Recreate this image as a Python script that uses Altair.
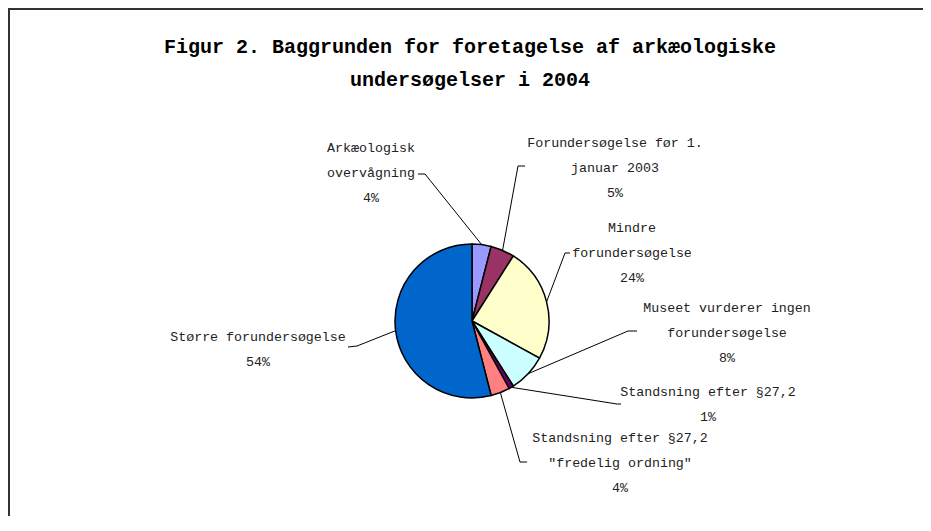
import math
import altair as alt
import pandas as pd

# ---- data ----
categories = [
    "Arkæologisk overvågning",
    "Forundersøgelse før 1. januar 2003",
    "Mindre forundersøgelse",
    "Museet vurderer ingen forundersøgelse",
    "Standsning efter §27,2",
    "Standsning efter §27,2 \"fredelig ordning\"",
    "Større forundersøgelse",
]
shares = [4, 5, 24, 8, 1, 4, 54]
label_lines = [
    ["Arkæologisk", "overvågning"],
    ["Forundersøgelse før 1.", "januar 2003"],
    ["Mindre", "forundersøgelse"],
    ["Museet vurderer ingen", "forundersøgelse"],
    ["Standsning efter §27,2"],
    ["Standsning efter §27,2", "\"fredelig ordning\""],
    ["Større forundersøgelse"],
]
title_lines = ["Figur 2. Baggrunden for foretagelse af arkæologiske",
               "undersøgelser i 2004"]

# ---- styles / layout ----
colors = ["#9999FF", "#993366", "#FFFFCC", "#CCFFFF", "#660066", "#FF8080", "#0066CC"]
W, H = 915, 508
CX, CY, R = 464, 313, 77
LINE_H = 25
FONT = "Liberation Mono"
# label anchor (centre x, first line y)
label_anchor = [(363, 140), (607, 135), (624, 220), (719, 300), (700, 384), (612, 430), (250, 329)]
# leader line elbow and tick end
leader_pts = [
    [(417, 166), (410, 166)],
    [(510, 158), (517, 158)],
    [(557, 245), (562, 245)],
    [(620, 323), (629, 323)],
    [(609, 396), (613, 396)],
    [(512, 454), (519, 454)],
    [(349, 338), (340, 339)],
]

pie_df = pd.DataFrame({"cat": categories, "share": shares, "order": list(range(len(shares)))})

# labels
rows = []
for i, (lines, v) in enumerate(zip(label_lines, shares)):
    ax, ay = label_anchor[i]
    for j, t in enumerate(lines + [f"{v}%"]):
        rows.append({"x": ax, "y": ay + j * LINE_H, "text": t})
lab_df = pd.DataFrame(rows)

# leader lines starting at slice mid-angle on the pie edge
total = sum(shares)
cum = 0
lrows = []
for i, v in enumerate(shares):
    mid = (cum + v / 2) / total * 2 * math.pi
    cum += v
    sx = CX + R * math.sin(mid)
    sy = CY - R * math.cos(mid)
    pts = [(sx, sy)] + leader_pts[i]
    for k, (px, py) in enumerate(pts):
        lrows.append({"lid": i, "k": k, "x": px, "y": py})
lead_df = pd.DataFrame(lrows)

title_df = pd.DataFrame({"x": [462, 462], "y": [39, 72], "text": title_lines})

xpix = lambda f: alt.X(f, scale=None, axis=None)
ypix = lambda f: alt.Y(f, scale=None, axis=None)

# outer frame: only top and left edges fall inside the picture
frame = alt.Chart(pd.DataFrame({"k": [0]})).mark_rect(
    fill="transparent", stroke="#333333", strokeWidth=2).encode(
    x=alt.value(1), x2=alt.value(W + 60), y=alt.value(1), y2=alt.value(H + 60))

pie = alt.Chart(pie_df).mark_arc(outerRadius=R, stroke="black", strokeWidth=1.5).encode(
    theta=alt.Theta("share:Q", stack=True),
    order=alt.Order("order:Q"),
    color=alt.Color("cat:N", scale=alt.Scale(domain=categories, range=colors), legend=None),
    x=alt.value(CX), y=alt.value(CY),
)

leaders = alt.Chart(lead_df).mark_line(color="black", strokeWidth=1).encode(
    x=xpix("x:Q"), y=ypix("y:Q"), detail="lid:N", order="k:Q")

labels = alt.Chart(lab_df).mark_text(font=FONT, fontSize=13.3, color="#222222",
                                      align="center", baseline="middle").encode(
    x=xpix("x:Q"), y=ypix("y:Q"), text="text:N")

title = alt.Chart(title_df).mark_text(font=FONT, fontSize=20, fontWeight="bold", color="black",
                                       align="center", baseline="middle").encode(
    x=xpix("x:Q"), y=ypix("y:Q"), text="text:N")

chart = alt.layer(frame, leaders, pie, labels, title).properties(
    width=W, height=H, autosize=alt.AutoSizeParams(type="none"), padding=0,
    view=alt.ViewBackground(stroke="transparent", strokeOpacity=0, strokeWidth=0),
).configure_view(stroke="transparent", strokeOpacity=0, strokeWidth=0)

chart.save("out.html", embed_options={"renderer": "svg", "actions": False})
